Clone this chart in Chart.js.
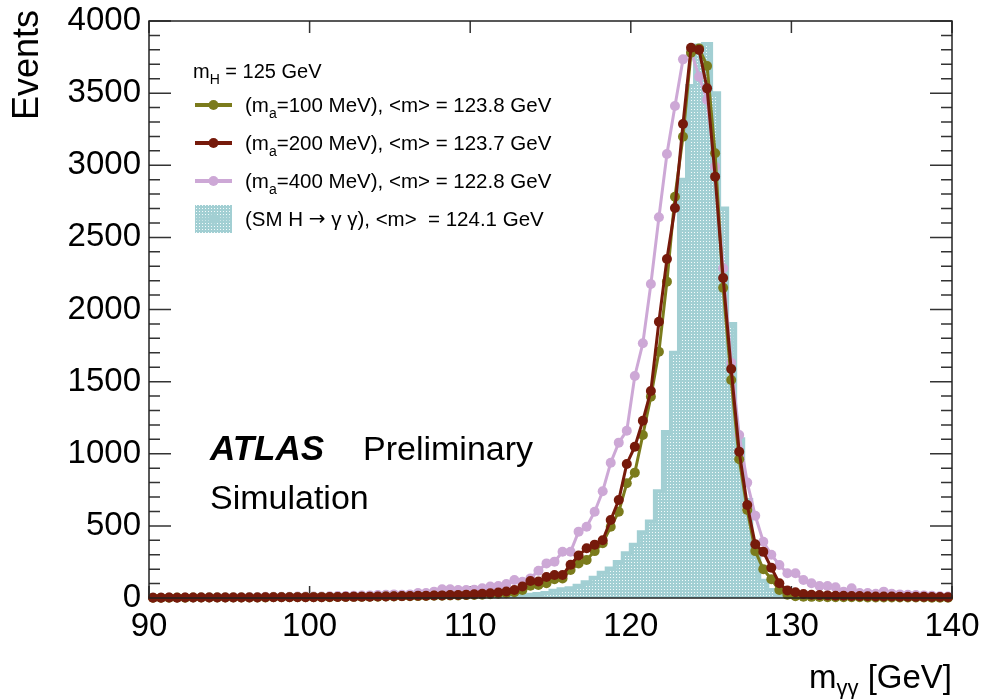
<!DOCTYPE html>
<html>
<head>
<meta charset="utf-8">
<script src="https://cdn.jsdelivr.net/npm/chart.js@4.4.1/dist/chart.umd.min.js"></script>
<style>
  html, body { margin: 0; padding: 0; background: #fff; }
  #wrap { width: 982px; height: 699px; }
</style>
</head>
<body>
<div id="wrap"><canvas id="massChart" width="982" height="699"></canvas></div>
<script>
// bin centres, 0.5 GeV bins from 90 to 140
const binCenters = [
  90.25, 90.75, 91.25, 91.75, 92.25, 92.75, 93.25, 93.75, 94.25, 94.75,
  95.25, 95.75, 96.25, 96.75, 97.25, 97.75, 98.25, 98.75, 99.25, 99.75,
  100.25, 100.75, 101.25, 101.75, 102.25, 102.75, 103.25, 103.75, 104.25, 104.75,
  105.25, 105.75, 106.25, 106.75, 107.25, 107.75, 108.25, 108.75, 109.25, 109.75,
  110.25, 110.75, 111.25, 111.75, 112.25, 112.75, 113.25, 113.75, 114.25, 114.75,
  115.25, 115.75, 116.25, 116.75, 117.25, 117.75, 118.25, 118.75, 119.25, 119.75,
  120.25, 120.75, 121.25, 121.75, 122.25, 122.75, 123.25, 123.75, 124.25, 124.75,
  125.25, 125.75, 126.25, 126.75, 127.25, 127.75, 128.25, 128.75, 129.25, 129.75,
  130.25, 130.75, 131.25, 131.75, 132.25, 132.75, 133.25, 133.75, 134.25, 134.75,
  135.25, 135.75, 136.25, 136.75, 137.25, 137.75, 138.25, 138.75, 139.25, 139.75
];

// m_a = 100 MeV
const eventsMa100 = [
  2, 2, 2, 3, 2, 3, 3, 3, 3, 3, 4, 3, 4, 4, 4, 5, 5, 5, 5, 6,
  6, 6, 6, 7, 7, 8, 8, 9, 9, 10, 11, 12, 12, 13, 14, 15, 16, 17, 18, 20,
  21, 23, 26, 29, 33, 40, 55, 85, 90, 102,
  130, 136, 194, 240, 263, 325, 380, 494, 598, 795,
  869, 1130, 1396, 1707, 2193, 2782, 3198, 3780, 3810, 3688,
  3083, 2150, 1511, 962, 610, 325, 200, 130, 55, 22,
  12, 9, 8, 7, 6, 6, 5, 5, 5, 4, 4, 4, 3, 3, 3, 3, 3, 2, 2, 2
];

// m_a = 200 MeV
const eventsMa200 = [
  2, 2, 3, 2, 3, 3, 3, 3, 4, 3, 4, 4, 4, 4, 5, 5, 5, 5, 6, 6,
  6, 6, 7, 7, 8, 8, 9, 9, 10, 11, 12, 13, 14, 15, 16, 17, 18, 20, 21, 23,
  26, 29, 33, 38, 45, 56, 80, 118, 115, 145,
  160, 160, 230, 295, 345, 370, 400, 541, 679, 929,
  1049, 1229, 1435, 1915, 2350, 2704, 3286, 3815, 3800, 3533,
  2921, 2218, 1587, 1014, 645, 373, 320, 210, 102, 52,
  40, 28, 22, 20, 18, 16, 15, 14, 13, 12, 11, 10, 10, 9, 9, 8, 8, 7, 7, 6
];

// m_a = 400 MeV
const eventsMa400 = [
  3, 3, 3, 4, 4, 4, 5, 5, 5, 6, 6, 6, 7, 7, 8, 8, 9, 9, 10, 10,
  10, 11, 12, 13, 14, 15, 17, 18, 20, 22, 25, 22, 25, 35, 35, 44, 60, 60, 55, 55,
  58, 67, 80, 83, 97, 125, 113, 136, 189, 240,
  252, 321, 321, 460, 494, 598, 740, 938, 1077, 1160,
  1539, 1766, 2177, 2639, 3078, 3411, 3734, 3790, 3614, 3452,
  2990, 2286, 1630, 1130, 800, 570, 390, 300, 229, 171,
  171, 125, 102, 83, 83, 74, 44, 67, 35, 35, 30, 44, 30, 25, 22, 20, 18, 15, 12, 10
];

// SM H -> gamma gamma
const eventsSM = [
  0, 0, 0, 0, 0, 0, 0, 0, 0, 0, 0, 0, 0, 0, 0, 0, 0, 0, 0, 0,
  0, 0, 0, 0, 0, 0, 0, 0, 0, 0, 1, 1, 2, 2, 2, 3, 3, 4, 4, 5,
  5, 6, 7, 8, 10, 14, 18, 22, 27, 35,
  50, 60, 68, 85, 110, 140, 175, 205, 250, 310,
  370, 455, 530, 740, 1150, 1700, 2900, 3550, 3830, 3840,
  3500, 2700, 1900, 1100, 680, 300, 120, 55, 25, 12,
  7, 5, 3, 2, 2, 1, 1, 1, 0, 0, 0, 0, 0, 0, 0, 0, 0, 0, 0, 0
];

const xTicks = [90, 100, 110, 120, 130, 140];
const yTicks = [0, 500, 1000, 1500, 2000, 2500, 3000, 3500, 4000];

const OLIVE = "#7b7b1c";
const MAROON = "#761a0b";
const PINK = "#cda8d6";
const TEAL = "#a2cfd3";
const FONT = "'Liberation Sans', Arial, Helvetica, sans-serif";

function toPoints(values) {
  return values.map((v, i) => ({ x: binCenters[i], y: v }));
}

function makeDots() {
  const c = document.createElement("canvas");
  c.width = 3; c.height = 3;
  const g = c.getContext("2d");
  g.fillStyle = TEAL;
  g.fillRect(0, 0, 3, 3);
  g.fillStyle = "#f4fbfb";
  g.fillRect(1, 1, 1, 1);
  return g.createPattern(c, "repeat");
}
const dotFill = makeDots();

function lineSet(label, values, color) {
  return {
    label: label,
    data: toPoints(values),
    borderColor: color,
    backgroundColor: color,
    pointBackgroundColor: color,
    borderWidth: 3,
    pointRadius: 5,
    pointBorderWidth: 0,
    pointHoverRadius: 5,
    tension: 0,
    fill: false,
    clip: false,
  };
}

// draw text with subscripts: parts = [[text, isSub], ...]
function richWidth(ctx, parts, size, subSize) {
  let w = 0;
  parts.forEach(([t, sub]) => {
    ctx.font = (sub ? subSize : size) + "px " + FONT;
    w += ctx.measureText(t).width;
  });
  return w;
}
function drawRich(ctx, parts, x, y, size, subSize, drop) {
  parts.forEach(([t, sub]) => {
    ctx.font = (sub ? subSize : size) + "px " + FONT;
    ctx.fillText(t, x, sub ? y + drop : y);
    x += ctx.measureText(t).width;
  });
}

const decorations = {
  id: "decorations",
  beforeDatasetsDraw(chart) {
    const ctx = chart.ctx;
    const a = chart.chartArea;
    const xs = chart.scales.x, ys = chart.scales.y;
    ctx.save();
    ctx.strokeStyle = "#333";
    ctx.lineWidth = 1.5;
    ctx.beginPath();
    for (let v = 0; v <= 4000; v += 100) {
      const py = ys.getPixelForValue(v);
      const len = v % 500 === 0 ? 22 : 11;
      ctx.moveTo(a.left, py); ctx.lineTo(a.left + len, py);
      ctx.moveTo(a.right, py); ctx.lineTo(a.right - len, py);
    }
    xTicks.forEach(v => {
      const px = xs.getPixelForValue(v);
      ctx.moveTo(px, a.bottom); ctx.lineTo(px, a.bottom - 12);
      ctx.moveTo(px, a.top); ctx.lineTo(px, a.top + 12);
    });
    ctx.stroke();
    ctx.restore();
  },
  afterDraw(chart) {
    const ctx = chart.ctx;
    const a = chart.chartArea;
    ctx.save();
    // frame
    ctx.strokeStyle = "#222";
    ctx.lineWidth = 1.5;
    ctx.strokeRect(a.left, a.top, a.right - a.left, a.bottom - a.top);

    ctx.fillStyle = "#000";
    ctx.textBaseline = "alphabetic";
    ctx.textAlign = "left";

    // legend
    const lx0 = 195, lx1 = 232, tx = 245;
    drawRich(ctx, [["m", false], ["H", true], [" = 125 GeV", false]], 193, 78, 20, 14, 6);
    const rows = [
      [OLIVE, "100", "123.8", 105],
      [MAROON, "200", "123.7", 143],
      [PINK, "400", "122.8", 181],
    ];
    rows.forEach(([col, ma, mean, cy]) => {
      ctx.strokeStyle = col;
      ctx.lineWidth = 4;
      ctx.beginPath(); ctx.moveTo(lx0, cy); ctx.lineTo(lx1, cy); ctx.stroke();
      ctx.fillStyle = col;
      ctx.beginPath(); ctx.arc((lx0 + lx1) / 2, cy, 5, 0, Math.PI * 2); ctx.fill();
      ctx.fillStyle = "#000";
      drawRich(ctx, [["(m", false], ["a", true], ["=" + ma + " MeV), <m> = " + mean + " GeV", false]],
        tx, cy + 7, 20.5, 14, 6);
    });
    // SM entry
    const sy = 219;
    ctx.fillStyle = dotFill;
    ctx.fillRect(lx0, sy - 14, lx1 - lx0, 28);
    ctx.strokeStyle = TEAL;
    ctx.lineWidth = 3;
    ctx.beginPath(); ctx.moveTo(lx0, sy); ctx.lineTo(lx1, sy); ctx.stroke();
    ctx.fillStyle = TEAL;
    ctx.beginPath(); ctx.arc((lx0 + lx1) / 2, sy, 5, 0, Math.PI * 2); ctx.fill();
    ctx.fillStyle = "#000";
    let sx = tx;
    ctx.font = "20.5px " + FONT;
    ctx.fillText("(SM H ", sx, sy + 7);
    sx += ctx.measureText("(SM H ").width;
    ctx.font = "20px 'DejaVu Sans', " + FONT;
    ctx.fillText("\u2192", sx, sy + 6);
    sx += ctx.measureText("\u2192").width;
    ctx.font = "20.5px " + FONT;
    ctx.fillText(" \u03b3 \u03b3), <m>  = 124.1 GeV", sx, sy + 7);

    // ATLAS label
    ctx.font = "italic bold 35px " + FONT;
    ctx.fillText("ATLAS", 210, 460);
    ctx.font = "34px " + FONT;
    ctx.fillText("Preliminary", 363, 460);
    ctx.fillText("Simulation", 210, 509);

    // x title, right aligned
    const xt = [["m", false], ["\u03b3\u03b3", true], [" [GeV]", false]];
    const w = richWidth(ctx, xt, 33, 22);
    drawRich(ctx, xt, a.right - w, 688, 33, 22, 7);

    // y title
    ctx.save();
    ctx.translate(38, 10);
    ctx.rotate(-Math.PI / 2);
    ctx.textAlign = "right";
    ctx.font = "36px " + FONT;
    ctx.fillText("Events", 0, 0);
    ctx.restore();

    ctx.restore();
  }
};

const ctx = document.getElementById("massChart").getContext("2d");
const massChart = new Chart(ctx, {
  type: "line",
  data: {
    datasets: [
      lineSet("m_a=200 MeV", eventsMa200, MAROON),
      lineSet("m_a=100 MeV", eventsMa100, OLIVE),
      lineSet("m_a=400 MeV", eventsMa400, PINK),
      {
        label: "SM H -> gamma gamma",
        data: toPoints(eventsSM),
        stepped: "middle",
        fill: "origin",
        backgroundColor: dotFill,
        borderColor: TEAL,
        borderWidth: 4,
        pointRadius: 0,
        pointHoverRadius: 0,
      },
    ],
  },
  options: {
    responsive: false,
    animation: false,
    devicePixelRatio: 1,
    layout: { padding: { left: 0, top: 21, right: 30, bottom: 0 } },
    plugins: { legend: { display: false }, tooltip: { enabled: false } },
    scales: {
      x: {
        type: "linear",
        min: 90,
        max: 140,
        afterFit: s => { s.height = 101; s.paddingLeft = 0; s.paddingRight = 0; },
        afterBuildTicks: s => { s.ticks = xTicks.map(v => ({ value: v })); },
        grid: { display: false, drawTicks: false },
        border: { display: false },
        ticks: { color: "#000", font: { size: 33, family: FONT }, padding: 9, maxRotation: 0, autoSkip: false,
                 callback: v => String(v) },
      },
      y: {
        min: 0,
        max: 4000,
        afterFit: s => { s.width = 149; s.paddingTop = 0; s.paddingBottom = 0; },
        afterBuildTicks: s => { s.ticks = yTicks.map(v => ({ value: v })); },
        grid: { display: false, drawTicks: false },
        border: { display: false },
        ticks: { color: "#000", font: { size: 33, family: FONT }, padding: 8, callback: v => String(v) },
      },
    },
  },
  plugins: [decorations],
});
</script>
</body>
</html>
